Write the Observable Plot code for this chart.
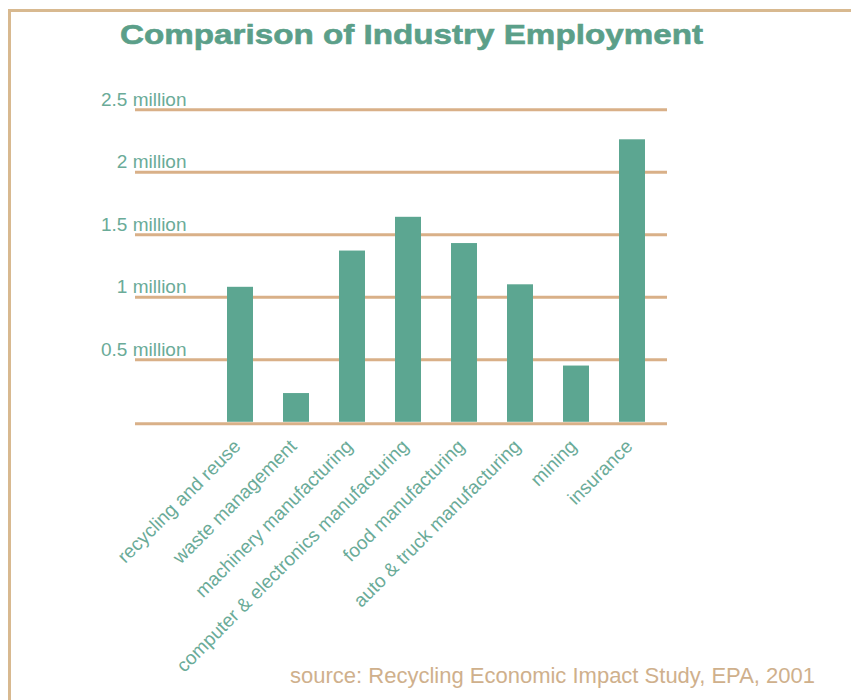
<!DOCTYPE html>
<html>
<head>
<meta charset="utf-8">
<script src="https://cdn.jsdelivr.net/npm/d3@7"></script>
<script src="https://cdn.jsdelivr.net/npm/@observablehq/plot@0.6"></script>
<style>
  html, body { margin: 0; padding: 0; background: #fff; }
  #page { position: relative; width: 851px; height: 700px; overflow: hidden; background: #fff; font-family: "Liberation Sans", Arial, sans-serif; }
  #frame { position: absolute; left: 8px; top: 8.5px; width: 900px; height: 800px; border-top: 3px solid #d8b990; border-left: 3px solid #d8b990; box-sizing: border-box; }
  #title { position: absolute; left: 120px; top: 21px; font-size: 28px; line-height: 28px; font-weight: bold; color: #5b9f89; white-space: nowrap; transform-origin: left center; -webkit-text-stroke: 0.6px #5b9f89; }
  #chart { position: absolute; left: 0; top: 70px; }
  #source { position: absolute; right: 36px; top: 665px; font-size: 22px; line-height: 22px; color: #cfb08c; white-space: nowrap; }
</style>
</head>
<body>
<div id="page">
  <div id="frame"></div>
  <div id="title">Comparison of Industry Employment</div>
  <div id="chart"></div>
  <div id="source">source: Recycling Economic Impact Study, EPA, 2001</div>
</div>
<script>
const categories = [
  "recycling and reuse",
  "waste management",
  "machinery manufacturing",
  "computer & electronics manufacturing",
  "food manufacturing",
  "auto & truck manufacturing",
  "mining",
  "insurance"
];
const employment = [1080000, 230000, 1370000, 1640000, 1430000, 1100000, 450000, 2260000];
const yTicks = [500000, 1000000, 1500000, 2000000, 2500000];
const yTickLabels = ["0.5 million", "1 million", "1.5 million", "2 million", "2.5 million"];
const gridValues = [0, 500000, 1000000, 1500000, 2000000, 2500000];

const data = categories.map((c, i) => ({category: c, value: employment[i]}));

const teal = "#5ca691";
const labelTeal = "#6aab98";
const tan = "#d9b088";

const chart = Plot.plot({
  width: 851,
  height: 630,
  marginLeft: 135,
  marginRight: 184,
  marginTop: 39.3,
  marginBottom: 278.2,
  style: {fontFamily: "'Liberation Sans', Arial, sans-serif", background: "transparent", overflow: "visible"},
  x: {type: "band", domain: categories, paddingInner: 0.54, paddingOuter: 0, align: 0.5, insetLeft: 90, insetRight: 20, axis: null},
  y: {domain: [0, 2500000], label: null},
  marks: [
    Plot.ruleY(gridValues.filter(v => v !== 0), {stroke: tan, strokeWidth: 3}),
    Plot.barY(data, {x: "category", y: "value", fill: teal}),
    Plot.ruleY([0], {stroke: tan, strokeWidth: 3, dy: 1.5}),
    Plot.axisY({
      ticks: yTicks,
      tickSize: 0,
      tickFormat: d => yTickLabels[yTicks.indexOf(d)],
      dx: 60,
      dy: -10,
      fontSize: 19,
      fill: labelTeal,
      label: null
    }),
    Plot.text(categories, {
      x: d => d,
      frameAnchor: "bottom",
      rotate: -45,
      textAnchor: "end",
      lineAnchor: "middle",
      dx: -3,
      dy: 21,
      fontSize: 19,
      fill: labelTeal
    })
  ]
});
document.getElementById("chart").appendChild(chart);

// stretch title to the reference's wide letterforms
const t = document.getElementById("title");
const w = t.getBoundingClientRect().width;
t.style.transform = `scaleX(${583 / w})`;
</script>
</body>
</html>
